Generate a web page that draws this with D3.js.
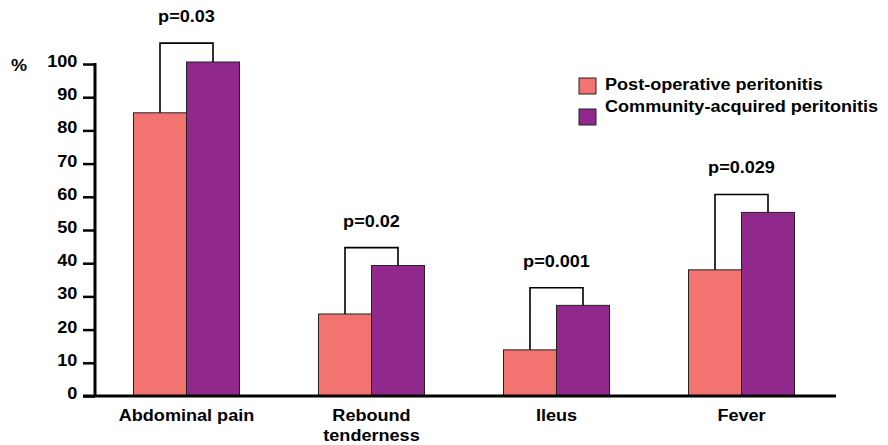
<!DOCTYPE html>
<html><head><meta charset="utf-8">
<script src="https://cdn.jsdelivr.net/npm/d3@7"></script>
<style>body{margin:0;background:#fff}svg{display:block}text{font-family:"Liberation Sans",Arial,sans-serif;font-weight:bold;fill:#000}</style>
</head><body><svg id="c" width="888" height="445"></svg>
<script>
const categories = [["Abdominal pain"], ["Rebound", "tenderness"], ["Ileus"], ["Fever"]];
const seriesNames = ["Post-operative peritonitis", "Community-acquired peritonitis"];
const postOp = [85.3, 24.7, 13.9, 38];
const community = [100.6, 39.3, 27.3, 55.3];
const bracketTop = [106.3, 44.7, 32.6, 60.7];
const pLabels = ["p=0.03", "p=0.02", "p=0.001", "p=0.029"];
const yTicks = [0,10,20,30,40,50,60,70,80,90,100];
const colors = ["#F27370", "#91288C"];

const FS = 16, SX = 1.13;
const svg = d3.select("#c");
function label(parent, x, y, str, anchor) {
  return parent.append("g").attr("transform", `translate(${x},${y}) scale(${SX},1)`)
    .append("text").attr("text-anchor", anchor || "start").attr("font-size", FS).text(str);
}
const keys = categories.map(c => c.join(" "));
const y = d3.scaleLinear().domain([0,100]).range([396, 64]);
const x0 = d3.scaleBand().domain(keys).range([94, 834]).paddingInner(0.427).paddingOuter(0.2135);
const x1 = d3.scaleBand().domain(seriesNames).range([0, x0.bandwidth()]);
const values = [postOp, community];

keys.forEach((k,i) => {
  const g = svg.append("g").attr("transform", `translate(${x0(k)},0)`);
  seriesNames.forEach((s,j) => {
    g.append("rect").attr("x", x1(s)).attr("width", x1.bandwidth())
      .attr("y", y(values[j][i])).attr("height", y(0)-y(values[j][i]))
      .attr("fill", colors[j]).attr("stroke", "#222").attr("stroke-width", 1);
  });
  const xa = x1(seriesNames[0]) + x1.bandwidth()/2, xb = x1(seriesNames[1]) + x1.bandwidth()/2;
  g.append("path").attr("d", `M${xa},${y(postOp[i])}V${y(bracketTop[i])}H${xb}V${y(community[i])}`)
    .attr("fill","none").attr("stroke","#000").attr("stroke-width",1.6);
  label(g, x0.bandwidth()/2, y(bracketTop[i]) - 21, pLabels[i], "middle");
  categories[i].forEach((line, li) => label(g, x0.bandwidth()/2, 421 + li*20, line, "middle"));
});

// y axis
const yAxis = d3.axisLeft(y).tickValues(yTicks).tickSize(12).tickPadding(6).tickFormat(d3.format("d"));
const ga = svg.append("g").attr("transform","translate(95,0)").call(yAxis);
ga.select(".domain").remove();
ga.selectAll(".tick line").attr("stroke","#000").attr("stroke-width",2.5);
ga.selectAll(".tick text").attr("font-size",FS).attr("font-family","Liberation Sans, Arial, sans-serif")
  .attr("font-weight","bold").attr("fill","#000").attr("dy","0.15em")
  .attr("x", -17.7/SX).attr("transform", `scale(${SX},1)`);
svg.append("line").attr("x1",95).attr("x2",95).attr("y1",y(0)).attr("y2",y(100)-1).attr("stroke","#000").attr("stroke-width",3);
svg.append("line").attr("x1",83).attr("x2",836).attr("y1",y(0)).attr("y2",y(0)).attr("stroke","#000").attr("stroke-width",3);
label(svg, 11, 71, "%");

// legend
const legRectY = [78, 109];
const legTextY = [90, 112];
seriesNames.forEach((s,j) => {
  svg.append("rect").attr("x",579).attr("y",legRectY[j]).attr("width",17).attr("height",16)
    .attr("fill",colors[j]).attr("stroke","#222").attr("stroke-width",1);
  label(svg, 605, legTextY[j], s);
});
</script></body></html>
